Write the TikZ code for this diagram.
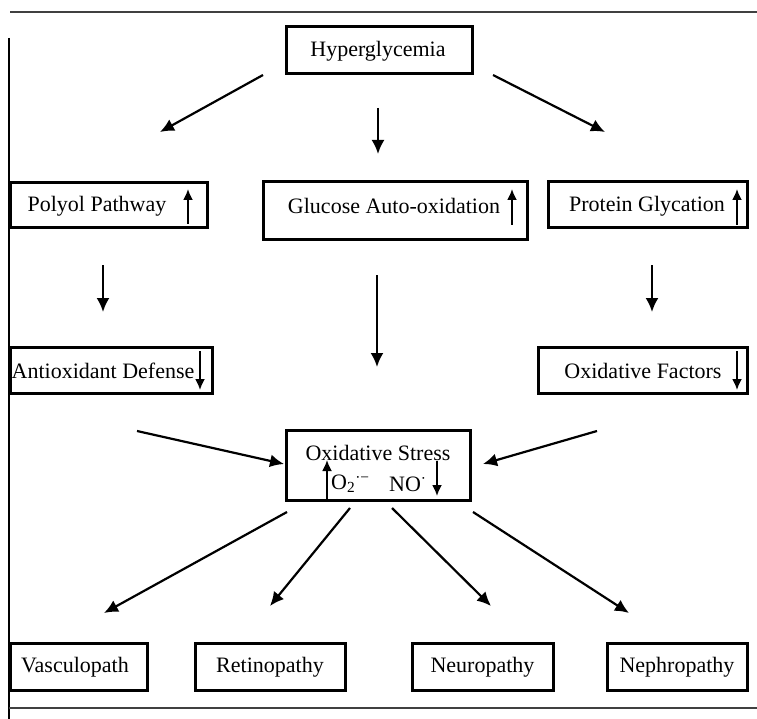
\documentclass[tikz,border=0pt]{standalone}
\usepackage{fontspec}
\setmainfont{Liberation Serif}
\usetikzlibrary{arrows.meta}
\begin{document}
\begin{tikzpicture}[x=1pt,y=-1pt,
  box/.style={draw, line width=3pt, inner sep=0pt},
  txt/.style={inner sep=0pt, font=\fontsize{22}{26}\selectfont},
  conn/.style={line width=2.2pt, -{Latex[length=14pt,width=13pt]}},
  updown/.style={line width=1.8pt, -{Latex[length=11pt,width=10pt]}},
  rule/.style={line width=2.2pt, draw=black!75}
]
\useasboundingbox (0,0) rectangle (757,719);
% frame lines
\coordinate (tl) at (10,12); \coordinate (tr) at (757,12);
\coordinate (lt) at (9,38); \coordinate (lb) at (9,719);
\coordinate (bl) at (9,708); \coordinate (br) at (757,708);
\draw[rule] (tl) -- (tr);
\draw[line width=2.2pt] (lt) -- (lb);
\draw[rule] (bl) -- (br);

% boxes
\node[box, minimum width=186, minimum height=47] (hyp) at (379,50) {};
\node[txt] (hypt) at (378,51) {Hyperglycemia};

\node[box, minimum width=197, minimum height=45] (pol) at (108.5,205.5) {};
\node[txt] (polt) at (97,206) {Polyol Pathway};
\coordinate (pola) at (188,224); \coordinate (polb) at (188,189);
\draw[updown] (pola) -- (polb);

\node[box, minimum width=264, minimum height=58] (glu) at (395,211) {};
\node[txt] (glut) at (394,206) {Glucose Auto-oxidation};
\coordinate (glua) at (512,225); \coordinate (glub) at (512,189);
\draw[updown] (glua) -- (glub);

\node[box, minimum width=199, minimum height=46] (pro) at (647.5,205) {};
\node[txt] (prot) at (647,206) {Protein Glycation};
\coordinate (proa) at (737,225); \coordinate (prob) at (737,189);
\draw[updown] (proa) -- (prob);

\node[box, minimum width=202, minimum height=46] (ant) at (111,370) {};
\node[txt] (antt) at (103,371) {Antioxidant Defense};
\coordinate (anta) at (200,351); \coordinate (antb) at (200,390);
\draw[updown] (anta) -- (antb);

\node[box, minimum width=209, minimum height=46] (oxf) at (642.5,370) {};
\node[txt] (oxft) at (643,371) {Oxidative Factors};
\coordinate (oxfa) at (737,351); \coordinate (oxfb) at (737,390);
\draw[updown] (oxfa) -- (oxfb);

\node[box, minimum width=184, minimum height=70] (oxs) at (378,465) {};
\node[txt] (oxst) at (378,453) {Oxidative Stress};
\node[txt, anchor=west] (o2) at (331,484) {O\textsubscript{2}\textsuperscript{·−}};
\node[txt, anchor=west] (no) at (389,484) {NO\textsuperscript{·}};
\coordinate (o2a) at (327,499); \coordinate (o2b) at (327,460);
\draw[updown] (o2a) -- (o2b);
\coordinate (noa) at (437,461); \coordinate (nob) at (437,496);
\draw[updown] (noa) -- (nob);

\node[box, minimum width=137, minimum height=47] (vas) at (78.5,666.5) {};
\node[txt] (vast) at (75,667) {Vasculopath};
\node[box, minimum width=150, minimum height=47] (ret) at (270,666.5) {};
\node[txt] (rett) at (270,667) {Retinopathy};
\node[box, minimum width=141, minimum height=47] (neu) at (482.5,666.5) {};
\node[txt] (neut) at (482.5,667) {Neuropathy};
\node[box, minimum width=140, minimum height=47] (nep) at (677,666.5) {};
\node[txt] (nept) at (677,667) {Nephropathy};

% connectors
\coordinate (a1s) at (263,75);  \coordinate (a1e) at (160,132);
\coordinate (a2s) at (378,108); \coordinate (a2e) at (378,154);
\coordinate (a3s) at (493,75);  \coordinate (a3e) at (605,132);
\coordinate (a4s) at (103,265); \coordinate (a4e) at (103,312);
\coordinate (a5s) at (377,275); \coordinate (a5e) at (377,367);
\coordinate (a6s) at (652,265); \coordinate (a6e) at (652,312);
\coordinate (a7s) at (137,431); \coordinate (a7e) at (284,464);
\coordinate (a8s) at (597,431); \coordinate (a8e) at (483,464);
\coordinate (a9s) at (287,512); \coordinate (a9e) at (104,613);
\coordinate (a10s) at (350,508); \coordinate (a10e) at (270,606);
\coordinate (a11s) at (392,508); \coordinate (a11e) at (491,606);
\coordinate (a12s) at (473,512); \coordinate (a12e) at (629,613);
\foreach \i in {1,...,12}{\draw[conn] (a\i s) -- (a\i e);}
\end{tikzpicture}
\end{document}
